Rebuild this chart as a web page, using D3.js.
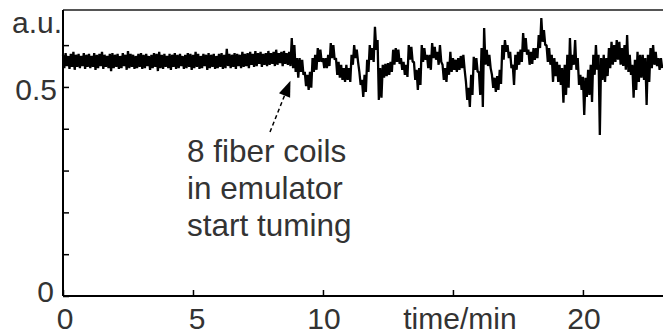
<!DOCTYPE html>
<html>
<head>
<meta charset="utf-8">
<script src="https://cdn.jsdelivr.net/npm/d3@7"></script>
<style>
  html, body { margin: 0; padding: 0; background: #fff; }
  svg { display: block; }
  text { font-family: "Liberation Sans", Arial, sans-serif; fill: #333; }
</style>
</head>
<body>
<script>
// sample spacing of the trace, minutes
var dt = 0.1;

// upper edge of the trace in each 0.1 min column (a.u.)
var hi = [
  .577,.581,.574,.579,.584,.577,.579,.574,.581,.577,
  .579,.574,.581,.577,.579,.584,.577,.574,.579,.581,
  .577,.579,.574,.581,.577,.586,.579,.577,.574,.579,
  .581,.577,.579,.574,.577,.581,.579,.584,.577,.579,
  .574,.579,.577,.581,.577,.579,.574,.577,.581,.579,
  .577,.584,.579,.574,.579,.577,.581,.577,.579,.574,
  .579,.581,.577,.591,.579,.577,.581,.579,.577,.584,
  .579,.581,.584,.579,.586,.581,.584,.579,.581,.586,
  .581,.584,.589,.581,.584,.586,.581,
  .584,.617,.600,.569,.569,.565,.536,.529,.536,.569,
  .577,.593,.589,.569,.569,.577,.605,.600,.569,.560,
  .553,.545,.553,.545,.577,.600,.589,.536,.517,.529,
  .565,.600,.593,.644,.612,.545,.553,.555,.557,.560,
  .589,.593,.589,.569,.560,.553,.600,.596,.560,.541,
  .545,.600,.593,.577,.577,.605,.596,.584,.600,.553,
  .545,.560,.584,.569,.565,.569,.574,.577,.512,.498,
  .529,.572,.569,.536,.593,.641,.589,.577,.529,.522,
  .526,.541,.600,.612,.600,.584,.553,.577,.584,.589,
  .629,.617,.589,.584,.593,.593,.624,.665,.636,.600,
  .593,.577,.569,.560,.553,.545,.553,.577,.617,.577,
  .612,.569,.529,.524,.522,.541,.553,.577,.600,.577,
  .569,.577,.569,.593,.608,.600,.612,.608,.593,.600,
  .624,.577,.553,.565,.584,.577,.577,.569,.577,.593,
  .600,.584,.569,.569
];

// lower edge of the trace in each 0.1 min column (a.u.)
var lo = [
  .545,.550,.543,.548,.541,.548,.545,.550,.543,.548,
  .545,.548,.541,.545,.550,.543,.548,.545,.538,.545,
  .548,.543,.545,.550,.541,.545,.548,.543,.545,.548,
  .543,.545,.550,.541,.545,.548,.538,.545,.543,.548,
  .545,.541,.548,.543,.545,.550,.543,.545,.548,.541,
  .545,.548,.543,.545,.550,.541,.545,.548,.543,.545,
  .548,.543,.545,.550,.545,.548,.543,.550,.545,.548,
  .550,.545,.553,.548,.550,.555,.548,.553,.550,.553,
  .555,.550,.553,.557,.550,.555,.553,
  .550,.545,.536,.522,.536,.529,.502,.493,.498,.536,
  .541,.560,.560,.545,.545,.550,.569,.565,.529,.522,
  .517,.512,.517,.512,.553,.569,.560,.505,.476,.488,
  .536,.565,.560,.589,.469,.474,.522,.526,.529,.536,
  .553,.560,.555,.541,.529,.524,.565,.560,.517,.493,
  .505,.560,.565,.545,.541,.569,.565,.553,.560,.517,
  .512,.529,.536,.541,.536,.541,.545,.541,.469,.452,
  .481,.541,.536,.481,.452,.553,.550,.545,.498,.488,
  .493,.507,.565,.584,.569,.545,.505,.541,.553,.560,
  .584,.577,.553,.555,.565,.569,.593,.608,.600,.560,
  .553,.512,.526,.512,.505,.462,.481,.498,.541,.553,
  .541,.505,.493,.433,.476,.481,.464,.529,.541,.385,
  .517,.512,.526,.545,.553,.560,.565,.553,.550,.541,
  .536,.529,.474,.493,.512,.522,.517,.457,.512,.545,
  .553,.550,.541,.545
];

var yTicks = [0, 0.1, 0.2, 0.3, 0.4, 0.5, 0.6];
var yLabels = [{ v: 0, text: "0" }, { v: 0.5, text: "0.5" }];
var xTicks = [0, 5, 10, 15, 20];
var xLabels = ["0", "5", "10", "time/min", "20"];
var note = ["8 fiber coils", "in emulator", "start tuming"];
var noteAt = 8.75;

var width = 663, height = 336;
var padL = 63, padT = 10, padB = 296;

var x = d3.scaleLinear().domain([0, 23.08]).range([padL, width]);
var y = d3.scaleLinear().domain([0, 0.684]).range([padB, padT]);

var svg = d3.select("body").append("svg")
  .attr("width", width)
  .attr("height", height);

// the dense trace: each column runs from its top edge down to its bottom edge
var pts = [];
hi.forEach(function (h, i) {
  pts.push([i * dt, h]);
  pts.push([i * dt + dt / 2, lo[i]]);
});

var line = d3.line()
  .x(function (d) { return x(d[0]); })
  .y(function (d) { return y(d[1]); });

svg.append("path")
  .datum(pts)
  .attr("d", line)
  .attr("fill", "none")
  .attr("stroke", "#000")
  .attr("stroke-width", 2.3)
  .attr("stroke-linejoin", "bevel");

// frame top
svg.append("line")
  .attr("x1", padL).attr("x2", width)
  .attr("y1", padT).attr("y2", padT)
  .attr("stroke", "#555").attr("stroke-width", 2);

// axes with inward ticks
var yAxis = svg.append("g")
  .attr("transform", "translate(" + padL + ",0)")
  .call(d3.axisLeft(y).tickValues(yTicks).tickSize(-6).tickFormat(""));
var xAxis = svg.append("g")
  .attr("transform", "translate(0," + padB + ")")
  .call(d3.axisBottom(x).tickValues(xTicks).tickSize(-6).tickFormat(""));

[yAxis, xAxis].forEach(function (g) {
  g.select(".domain").attr("stroke", "#000").attr("stroke-width", 2);
  g.selectAll(".tick line").attr("stroke", "#000").attr("stroke-width", 1.5);
});
yAxis.select(".domain").attr("d", "M0," + padB + "V" + padT);
xAxis.select(".domain").attr("d", "M" + padL + ",0H" + width);

// y labels
svg.selectAll(".ylab")
  .data(yLabels)
  .enter().append("text")
  .attr("class", "ylab")
  .attr("x", function (d) { return d.v === 0 ? 54 : 57; })
  .attr("y", function (d) { return d.v === 0 ? y(d.v) + 6 : y(d.v) + 13; })
  .attr("text-anchor", "end")
  .style("font-size", "30px")
  .text(function (d) { return d.text; });

svg.append("text")
  .attr("x", 62).attr("y", 33)
  .attr("text-anchor", "end")
  .style("font-size", "30px")
  .text("a.u.");

// x labels
var xShift = [2, 4, 1, 7, 1];
svg.selectAll(".xlab")
  .data(xTicks)
  .enter().append("text")
  .attr("class", "xlab")
  .attr("x", function (d, i) { return x(d) + xShift[i]; })
  .attr("y", 329)
  .attr("text-anchor", "middle")
  .style("font-size", "30px")
  .text(function (d, i) { return xLabels[i]; });

// annotation
svg.selectAll(".note")
  .data(note)
  .enter().append("text")
  .attr("class", "note")
  .attr("x", 187)
  .attr("y", function (d, i) { return 162 + i * 37; })
  .style("font-size", "31.5px")
  .text(function (d) { return d; });

var tip = [x(noteAt), y(0.515)];
var tail = [270, 132];
var ang = Math.atan2(tip[1] - tail[1], tip[0] - tail[0]);
var headLen = 16, headW = 6;
var bx = tip[0] - headLen * Math.cos(ang), by = tip[1] - headLen * Math.sin(ang);

svg.append("line")
  .attr("x1", tail[0]).attr("y1", tail[1])
  .attr("x2", bx).attr("y2", by)
  .attr("stroke", "#000").attr("stroke-width", 1.5)
  .attr("stroke-dasharray", "4,3");

svg.append("path")
  .attr("d", "M" + tip[0] + "," + tip[1] +
    "L" + (bx + headW * Math.sin(ang)) + "," + (by - headW * Math.cos(ang)) +
    "L" + (bx - headW * Math.sin(ang)) + "," + (by + headW * Math.cos(ang)) + "Z")
  .attr("fill", "#000");
</script>
</body>
</html>
